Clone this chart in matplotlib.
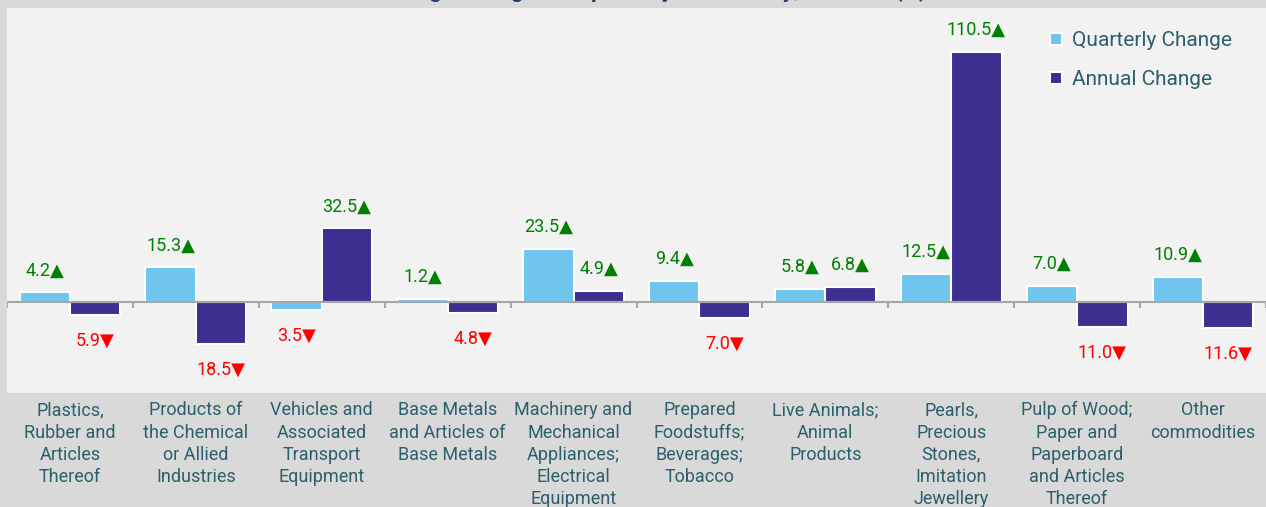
import matplotlib
matplotlib.use("Agg")
import matplotlib.pyplot as plt
import numpy as np

CATEGORIES = [
    "Plastics,\nRubber and\nArticles\nThereof",
    "Products of\nthe Chemical\nor Allied\nIndustries",
    "Vehicles and\nAssociated\nTransport\nEquipment",
    "Base Metals\nand Articles of\nBase Metals",
    "Machinery and\nMechanical\nAppliances;\nElectrical\nEquipment",
    "Prepared\nFoodstuffs;\nBeverages;\nTobacco",
    "Live Animals;\nAnimal\nProducts",
    "Pearls,\nPrecious\nStones,\nImitation\nJewellery",
    "Pulp of Wood;\nPaper and\nPaperboard\nand Articles\nThereof",
    "Other\ncommodities",
]
QUARTERLY = [4.2, 15.3, -3.5, 1.2, 23.5, 9.4, 5.8, 12.5, 7.0, 10.9]
ANNUAL = [-5.9, -18.5, 32.5, -4.8, 4.9, -7.0, 6.8, 110.5, -11.0, -11.6]
TITLE = "Percentage Change in Imports by Commodity, 2024 Q1 (%)"

LIGHT = "#70c5ef"
DARK = "#3b2f8f"
TEXT = "#2b5f6b"
FONT = ["Roboto", "DejaVu Sans"]

plt.rcParams["font.family"] = FONT


def label_bars(ax, xs, vals):
    for x, v in zip(xs, vals):
        if v >= 0:
            ax.annotate(f"{v:.1f}\u25B2", (x, v), xytext=(0, 13),
                        textcoords="offset pixels", ha="center", va="bottom",
                        color="#008000", fontsize=13)
        else:
            ax.annotate(f"{abs(v):.1f}\u25BC", (x, v), xytext=(0, -17),
                        textcoords="offset pixels", ha="center", va="top",
                        color="#ff0000", fontsize=13)


def main():
    W, H = 1266, 507
    fig = plt.figure(figsize=(W / 100, H / 100), dpi=100, facecolor="#d9d9d9")
    ax = fig.add_axes([7 / W, (H - 393) / H, 1 - 7 / W, (393 - 8) / H])
    ax.set_facecolor("#f2f2f2")

    x = np.arange(len(CATEGORIES))
    w = 0.4
    ax.bar(x - w / 2, QUARTERLY, w, color=LIGHT, edgecolor="white",
           linewidth=1.5, label="Quarterly Change", zorder=3)
    ax.bar(x + w / 2, ANNUAL, w, color=DARK, edgecolor="white",
           linewidth=1.5, label="Annual Change", zorder=3)
    label_bars(ax, x - w / 2, QUARTERLY)
    label_bars(ax, x + w / 2, ANNUAL)

    ax.set_xlim(-0.5, len(CATEGORIES) - 0.5)
    ax.set_ylim(-40.3, 130)

    # zero line with small ticks at category boundaries
    ax.axhline(0, color="#a6a6a6", lw=1.5, zorder=4)
    ax.vlines(np.arange(len(CATEGORIES) + 1) - 0.5, -2.7, 0,
              color="#a6a6a6", lw=1.5, zorder=4)

    for s in ax.spines.values():
        s.set_visible(False)
    ax.set_yticks([])
    ax.set_xticks(x)
    ax.set_xticklabels(CATEGORIES, fontsize=13, color=TEXT, linespacing=1.3)
    ax.tick_params(axis="x", length=0, pad=6)

    ax.legend(loc="upper left", bbox_to_anchor=(1040 / W, 1 - 21 / H),
              bbox_transform=fig.transFigure, frameon=False, fontsize=15,
              labelcolor=TEXT, handlelength=0.55, handleheight=0.55,
              handletextpad=0.5, labelspacing=0.95, borderpad=0)

    # title sits mostly above the visible canvas
    fig.text(0.5, 1 + 3 / H, TITLE, ha="center", va="baseline",
             fontsize=16, fontweight="bold", color="#1f3a6e")

    fig.savefig("out.png", dpi=100, facecolor=fig.get_facecolor())


if __name__ == "__main__":
    main()
